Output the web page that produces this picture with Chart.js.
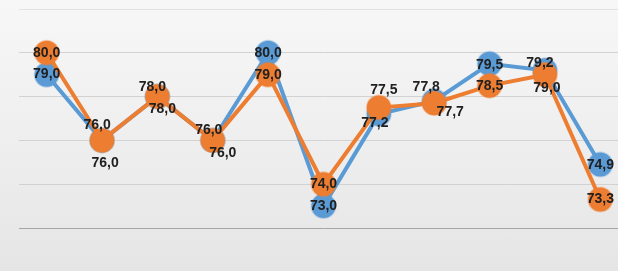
<!DOCTYPE html>
<html>
<head>
<meta charset="utf-8">
<script src="https://cdn.jsdelivr.net/npm/chart.js@4/dist/chart.umd.min.js"></script>
<style>
    html, body {
        margin: 0;
        padding: 0;
        width: 618px;
        height: 271px;
        overflow: hidden;
        background: linear-gradient(to bottom, #f7f7f7 0%, #ededed 60%, #e5e5e5 100%);
    }
    #wrap {
        position: relative;
        top: -5px;
        width: 642px;
        height: 276px;
    }
</style>
</head>
<body>
<div id="wrap"><canvas id="lineChart"></canvas></div>
<script>
// Chart data
const categories = ['1', '2', '3', '4', '5', '6', '7', '8', '9', '10', '11'];
const blueValues = [79.0, 76.0, 78.0, 76.0, 80.0, 73.0, 77.2, 77.8, 79.5, 79.2, 74.9];
const orangeValues = [80.0, 76.0, 78.0, 76.0, 79.0, 74.0, 77.5, 77.7, 78.5, 79.0, 73.3];
const yMin = 72;
const yMax = 82;

// label nudges [dx, dy] so overlapping labels don't sit on top of each other
const blueLabelShift = [[0, -1], [-5, -15], [-5, -9], [-4, -10], [0, 0], [0, 0], [-4, 9], [-8, -14], [0, 1], [-5, -7], [0, 1]];
const orangeLabelShift = [[0, 0], [3, 23], [5, 13], [10, 13], [0, 0], [0, 0], [5, -17], [16, 9], [0, 0], [2, 13], [0, 0]];

const pointLabels = {
    id: 'pointLabels',
    afterDatasetsDraw(chart) {
        const ctx = chart.ctx;
        ctx.save();
        ctx.font = 'bold 14px "Liberation Sans", Arial, sans-serif';
        ctx.fillStyle = '#202020';
        ctx.textAlign = 'center';
        ctx.textBaseline = 'middle';
        chart.data.datasets.forEach((dataset, i) => {
            const meta = chart.getDatasetMeta(i);
            meta.data.forEach((pt, j) => {
                const shift = dataset.labelShift[j];
                const txt = dataset.data[j].toFixed(1).replace('.', ',');
                ctx.fillText(txt, pt.x + shift[0], pt.y + shift[1]);
            });
        });
        ctx.restore();
    }
};

const ctx = document.getElementById('lineChart').getContext('2d');
const lineChart = new Chart(ctx, {
    type: 'line',
    data: {
        labels: categories,
        datasets: [{
            label: 'Orange',
            data: orangeValues,
            labelShift: orangeLabelShift,
            borderColor: '#ed7d31',
            backgroundColor: '#ed7d31',
            pointBackgroundColor: '#ed7d31',
            pointBorderColor: 'rgba(237, 125, 49, 0.35)',
            pointBorderWidth: 2,
            pointRadius: 12,
            borderWidth: 4,
            tension: 0
        }, {
            label: 'Blue',
            data: blueValues,
            labelShift: blueLabelShift,
            borderColor: '#5b9bd5',
            backgroundColor: '#5b9bd5',
            pointBackgroundColor: '#5b9bd5',
            pointBorderColor: 'rgba(91, 155, 213, 0.35)',
            pointBorderWidth: 2,
            pointRadius: 12,
            borderWidth: 4,
            tension: 0
        }]
    },
    options: {
        responsive: true,
        maintainAspectRatio: false,
        animation: false,
        layout: {
            padding: { left: 19, right: 0, top: 0, bottom: 43 }
        },
        scales: {
            x: {
                display: false,
                offset: true
            },
            y: {
                min: yMin,
                max: yMax,
                ticks: { display: false, stepSize: 2 },
                border: { display: false },
                grid: {
                    drawTicks: false,
                    lineWidth: 1,
                    color: (c) => {
                        if (c.tick && c.tick.value === yMin) return '#a6a6a6';
                        if (c.tick && c.tick.value === yMax) return '#e2e2e2';
                        return '#d2d2d2';
                    }
                }
            }
        },
        plugins: {
            legend: { display: false },
            tooltip: { enabled: false }
        }
    },
    plugins: [pointLabels]
});
</script>
</body>
</html>
